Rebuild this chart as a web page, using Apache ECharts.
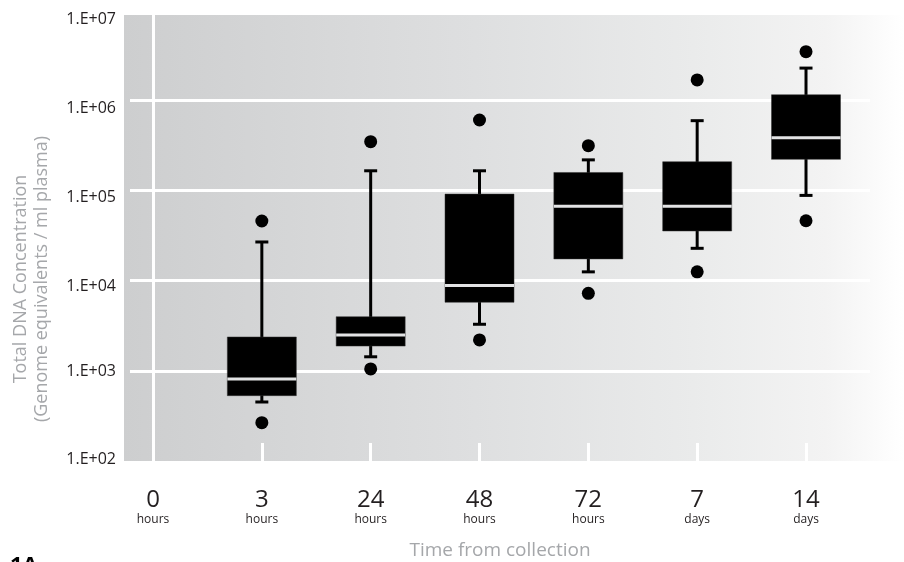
<!DOCTYPE html>
<html>
<head>
<meta charset="utf-8">
<script src="https://cdn.jsdelivr.net/npm/echarts@6/dist/echarts.min.js"></script>
<style>
  html, body { margin: 0; padding: 0; background: #fff; }
  #chart { width: 904px; height: 562px; }
</style>
</head>
<body>
<div id="chart"></div>
<script>
var chart = echarts.init(document.getElementById('chart'));

// x categories (0 = "0 hours", 1 = "3 hours", ...)
var timeNums  = ['0', '3', '24', '48', '72', '7', '14'];
var timeUnits = ['hours', 'hours', 'hours', 'hours', 'hours', 'days', 'days'];

// box plot values for 3h .. 14d (0 hours has no box)
var lowCap  = [451, 1430, 3280, 12500, 22800, 88000];
var q1      = [530, 1880, 5750, 17400, 35500, 221000];
var median  = [810, 2490, 8800, 66700, 66700, 384000];
var q3      = [2370, 3980, 91000, 158000, 208000, 1150000];
var highCap = [26800, 165000, 165000, 218000, 593000, 2270000];

// outliers: [category index, value]
var outliers = [
    [1, 45800], [1, 266],
    [2, 347000], [2, 1050],
    [3, 603000], [3, 2200],
    [4, 313000], [4, 7230],
    [5, 1680000], [5, 12500],
    [6, 3450000], [6, 46100]
];

var yLabels = { 2: '1.E+02', 3: '1.E+03', 4: '1.E+04', 5: '1.E+05', 6: '1.E+06', 7: '1.E+07' };

var boxData = [];
for (var i = 0; i < q1.length; i++) {
    boxData.push([i + 1, lowCap[i], q1[i], median[i], q3[i], highCap[i]]);
}

var FONT = '"Open Sans", "DejaVu Sans", sans-serif';
var BOX_W = 69, CAP_W = 13;

function renderBox(params, api) {
    var x = api.value(0);
    var lo = api.coord([x, api.value(1)]);
    var b1 = api.coord([x, api.value(2)]);
    var md = api.coord([x, api.value(3)]);
    var b3 = api.coord([x, api.value(4)]);
    var hi = api.coord([x, api.value(5)]);
    var cx = lo[0];
    var line = { stroke: '#000', lineWidth: 3 };
    return {
        type: 'group',
        children: [
            { type: 'line', shape: { x1: cx, y1: hi[1], x2: cx, y2: lo[1] }, style: line },
            { type: 'line', shape: { x1: cx - CAP_W / 2, y1: hi[1], x2: cx + CAP_W / 2, y2: hi[1] }, style: line },
            { type: 'line', shape: { x1: cx - CAP_W / 2, y1: lo[1], x2: cx + CAP_W / 2, y2: lo[1] }, style: line },
            { type: 'rect', shape: { x: cx - BOX_W / 2, y: b3[1], width: BOX_W, height: b1[1] - b3[1] },
              style: { fill: '#000', stroke: '#333', lineWidth: 0.5 } },
            { type: 'line', shape: { x1: cx - BOX_W / 2, y1: md[1], x2: cx + BOX_W / 2, y2: md[1] },
              style: { stroke: '#e2e3e4', lineWidth: 3 } }
        ]
    };
}

// label shifts to follow the drawn labels of the figure
var labelRich = {
    e7: { padding: [18, 0, 0, 0] },
    e6: { padding: [16, 0, 0, 0] },
    e5: { padding: [14, 0, 0, 0] },
    e4: { padding: [12, 0, 0, 0] },
    e3: { padding: [2, 0, 0, 0] },
    e2: { padding: [0, 0, 4, 0] }
};

chart.setOption({
    animation: false,
    textStyle: { fontFamily: FONT },
    graphic: [
        {
            type: 'rect',
            z: -10,
            silent: true,
            shape: { x: 124, y: 15, width: 780, height: 446 },
            style: {
                fill: new echarts.graphic.LinearGradient(0, 0, 1, 0, [
                    { offset: 0, color: '#cdcecf' },
                    { offset: 0.45, color: '#dedfe0' },
                    { offset: 0.73, color: '#eaebeb' },
                    { offset: 0.9, color: '#f3f3f3' },
                    { offset: 1, color: '#ffffff' }
                ])
            }
        },
        {
            type: 'text',
            left: 10,
            top: 555,
            style: { text: '1A', fill: '#000', font: 'bold 22px ' + FONT }
        }
    ],
    grid: {
        left: 130,
        right: 34,
        top: 10,
        bottom: 101,
        outerBoundsMode: 'none'
    },
    xAxis: {
        type: 'value',
        min: -0.2114,
        max: 6.588,
        axisLine: { show: false },
        splitLine: { show: false },
        axisTick: {
            show: true,
            inside: true,
            length: 18,
            customValues: [1, 2, 3, 4, 5, 6],
            lineStyle: { color: '#fff', width: 3 }
        },
        axisLabel: {
            customValues: [0, 1, 2, 3, 4, 5, 6],
            margin: 27,
            formatter: function (v) {
                var i = Math.round(v);
                return '{n|' + timeNums[i] + '}\n{u|' + timeUnits[i] + '}';
            },
            rich: {
                n: { fontSize: 24, lineHeight: 25, color: '#231f20', fontFamily: FONT },
                u: { fontSize: 12, lineHeight: 14, color: '#231f20', fontFamily: FONT }
            }
        },
        name: 'Time from collection',
        nameLocation: 'middle',
        nameGap: 80,
        nameTextStyle: { color: '#a5a7aa', fontSize: 19, fontFamily: FONT }
    },
    yAxis: {
        type: 'log',
        logBase: 10,
        min: 100,
        max: 10000000,
        axisLine: { show: false },
        axisTick: { show: false },
        splitLine: {
            show: true,
            showMinLine: false,
            showMaxLine: false,
            lineStyle: { color: '#fff', width: 3 }
        },
        axisLabel: {
            margin: 14,
            color: '#231f20',
            fontSize: 16,
            fontFamily: FONT,
            formatter: function (v) {
                var e = Math.round(Math.log10(v));
                return '{e' + e + '|' + yLabels[e] + '}';
            },
            rich: labelRich
        },
        name: 'Total DNA Concentration\n(Genome equivalents / ml plasma)',
        nameLocation: 'middle',
        nameGap: 78,
        nameTextStyle: {
            color: '#a5a7aa',
            fontSize: 18,
            lineHeight: 21,
            fontFamily: FONT,
            padding: [0, 87, 0, 0]
        }
    },
    series: [
        {
            type: 'custom',
            renderItem: renderBox,
            data: boxData,
            z: 3
        },
        {
            type: 'scatter',
            symbol: 'circle',
            symbolSize: 13,
            itemStyle: { color: '#000', opacity: 1 },
            data: outliers,
            z: 4,
            markLine: {
                silent: true,
                symbol: 'none',
                label: { show: false },
                lineStyle: { color: '#fff', width: 3, type: 'solid' },
                data: [{ xAxis: 0 }]
            }
        }
    ]
});
</script>
</body>
</html>
